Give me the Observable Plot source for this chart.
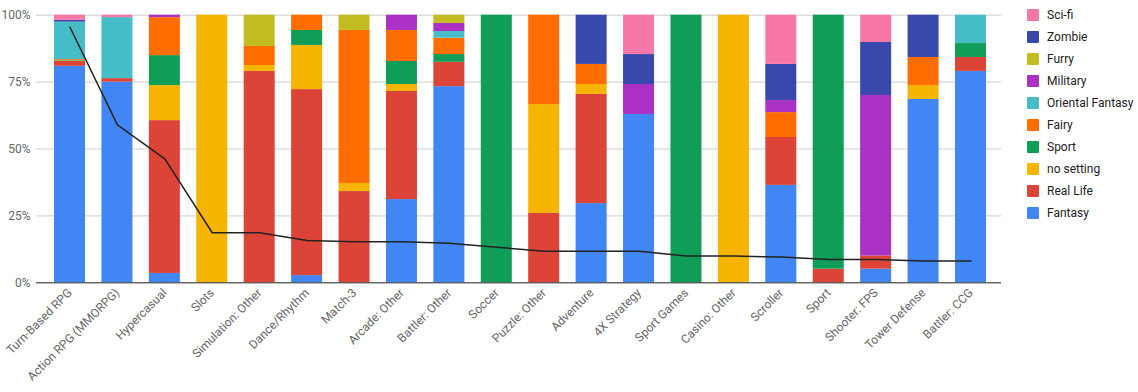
<!DOCTYPE html>
<html>
<head>
<meta charset="utf-8">
<script src="https://cdn.jsdelivr.net/npm/d3@7"></script>
<script src="https://cdn.jsdelivr.net/npm/@observablehq/plot@0.6"></script>
<style>
  html, body { margin: 0; padding: 0; background: #fff; }
  #wrap { position: relative; width: 1138px; height: 392px; font-family: Roboto, "Noto Sans", sans-serif; }
  #legend { position: absolute; left: 1027px; top: 4px; }
  .item { display: flex; align-items: center; height: 22px; font-size: 12px; color: #222; }
  .sw { width: 12px; height: 12px; margin-right: 8px; border-radius: 1px; }
</style>
</head>
<body>
<div id="wrap"><div id="chart"></div><div id="legend"></div></div>
<script>
const categories = ["Turn-Based RPG","Action RPG (MMORPG)","Hypercasual","Slots","Simulation: Other","Dance/Rhythm","Match-3","Arcade: Other","Battler: Other","Soccer","Puzzle: Other","Adventure","4X Strategy","Sport Games","Casino: Other","Scroller","Sport","Shooter: FPS","Tower Defense","Battler: CCG"];

// stacking order bottom -> top
const seriesNames = ["Fantasy","Real Life","no setting","Sport","Fairy","Oriental Fantasy","Military","Furry","Zombie","Sci-fi"];
const seriesColors = ["#4285f4","#db4437","#f4b400","#0f9d58","#ff6d00","#46bdc6","#ab30c4","#c2bc23","#3949ab","#f778a8"];

// percent shares per category (same order as categories)
const fantasy        = [80.9, 75.0,  3.5,   0,    0,  2.7,    0, 31.1, 73.3,   0,    0, 29.6, 62.9,   0,   0, 36.4,    0,  5.1, 68.5, 79.0];
const realLife       = [ 1.8,  1.3, 57.1,   0, 79.0, 69.5, 34.1, 40.4,  9.1,   0, 25.9, 40.8,    0,   0,   0, 17.9,  5.1,  4.9,    0,  5.2];
const noSetting      = [ 0.2,    0, 13.1, 100,  2.2, 16.5,  3.0,  2.6,    0,   0, 40.7,  3.7,    0,   0, 100,    0,    0,    0,  5.2,    0];
const sport          = [ 0.2,    0, 11.2,   0,    0,  5.6,    0,  8.6,  2.9, 100,    0,    0,    0, 100,   0,    0, 94.9,    0,    0,  5.2];
const fairy          = [ 0.3,    0, 14.2,   0,  7.1,  5.7, 57.2, 11.6,  6.1,   0, 33.4,  7.5,    0,   0,   0,  9.3,    0,    0, 10.5,    0];
const orientalFantasy= [14.0, 22.8,    0,   0,    0,    0,    0,    0,  2.5,   0,    0,    0,    0,   0,   0,    0,    0,    0,    0, 10.6];
const military       = [   0,    0,  0.9,   0,    0,    0,    0,  5.7,  3.0,   0,    0,    0, 11.2,   0,   0,  4.5,    0, 60.0,    0,    0];
const furry          = [   0,    0,    0,   0, 11.7,    0,  5.7,    0,  3.1,   0,    0,    0,    0,   0,   0,    0,    0,    0,    0,    0];
const zombie         = [ 0.7,    0,    0,   0,    0,    0,    0,    0,    0,   0,    0, 18.4, 11.2,   0,   0, 13.5,    0, 19.8, 15.8,    0];
const sciFi          = [ 1.9,  0.9,    0,   0,    0,    0,    0,    0,    0,   0,    0,    0, 14.7,   0,   0, 18.4,    0, 10.2,    0,    0];

// black line values (percent)
const lineValues = [95.5, 59.0, 46.3, 18.7, 18.7, 15.8, 15.3, 15.3, 14.8, 13.3, 11.8, 11.8, 11.8, 10.0, 10.0, 9.6, 8.7, 8.7, 8.1, 8.1];

const yTicks = [0, 0.25, 0.5, 0.75, 1];

const seriesValues = [fantasy, realLife, noSetting, sport, fairy, orientalFantasy, military, furry, zombie, sciFi];
const rows = [];
seriesNames.forEach((s, si) => {
  categories.forEach((c, ci) => {
    rows.push({category: c, series: s, value: seriesValues[si][ci]});
  });
});
const lineData = categories.map((c, i) => ({category: c, value: lineValues[i] / 100}));

const chart = Plot.plot({
  width: 1138,
  height: 392,
  marginLeft: 36,
  marginRight: 137,
  marginTop: 14.7,
  marginBottom: 109.7,
  style: {fontFamily: "Roboto, sans-serif", fontSize: "12px", color: "#666", background: "#fff"},
  x: {domain: categories, range: [45.8, 994.2], paddingInner: 0.346, paddingOuter: 0.173, round: false, label: null},
  y: {domain: [0, 1], label: null},
  color: {domain: seriesNames, range: seriesColors},
  marks: [
    Plot.gridY(yTicks, {stroke: "#ccc", strokeOpacity: 1}),
    Plot.axisY(yTicks, {tickFormat: d3.format(".0%"), tickSize: 0, tickPadding: 6, fill: "#666", fontSize: 12}),
    Plot.barY(rows, Plot.stackY({
      x: "category", y: "value", fill: "series",
      order: seriesNames, offset: "normalize"
    })),
    Plot.ruleY([0], {stroke: "#333", strokeWidth: 1}),
    Plot.line(lineData, {x: "category", y: "value", stroke: "#222", strokeWidth: 1.5}),
    Plot.axisX({tickRotate: -45, tickSize: 0, tickPadding: 8, fill: "#666", fontSize: 12})
  ]
});
document.getElementById("chart").appendChild(chart);

const legend = document.getElementById("legend");
for (let i = seriesNames.length - 1; i >= 0; i--) {
  const item = document.createElement("div");
  item.className = "item";
  const sw = document.createElement("div");
  sw.className = "sw";
  sw.style.background = seriesColors[i];
  const t = document.createElement("span");
  t.textContent = seriesNames[i];
  item.appendChild(sw);
  item.appendChild(t);
  legend.appendChild(item);
}
</script>
</body>
</html>
